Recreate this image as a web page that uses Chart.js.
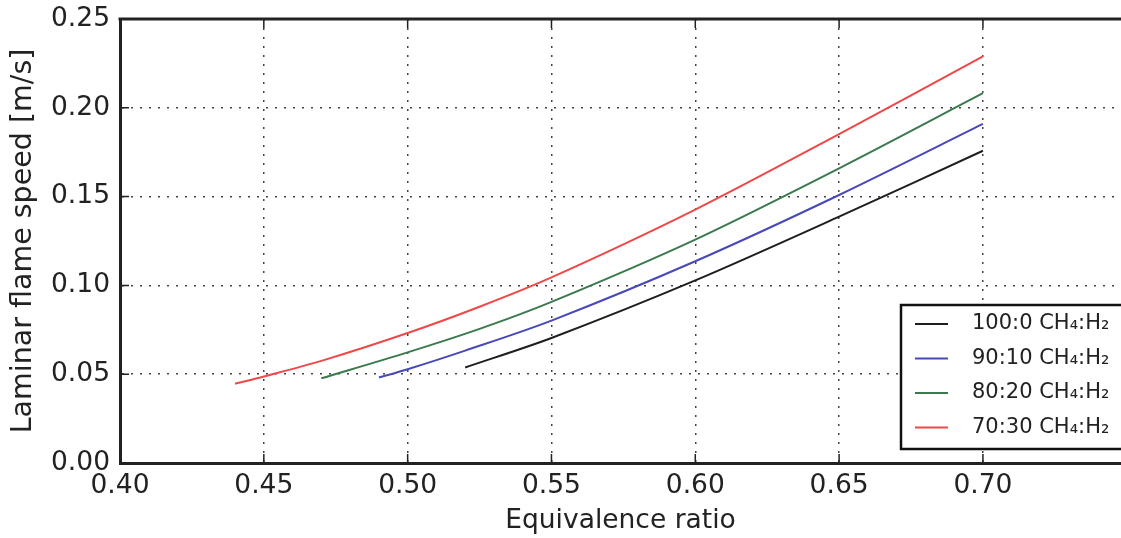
<!DOCTYPE html>
<html>
<head>
<meta charset="utf-8">
<script src="https://cdn.jsdelivr.net/npm/chart.js@4"></script>
<style>
  html, body { margin: 0; padding: 0; background: #fff; }
  #wrap { width: 1121px; height: 538px; }
</style>
</head>
<body>
<div id="wrap"><canvas id="myChart" width="1121" height="538"></canvas></div>
<script>
// equivalence ratio / flame speed
const seriesNames = ['100:0 CH₄:H₂', '90:10 CH₄:H₂', '80:20 CH₄:H₂', '70:30 CH₄:H₂'];
const seriesColors = ['#1e1e1e', '#4848b8', '#3b7a4c', '#ee4848'];

const phi100 = [0.52, 0.55, 0.60, 0.65, 0.70];
const sl100 = [0.0538, 0.0704, 0.1028, 0.1387, 0.1758];

const phi90 = [0.49, 0.50, 0.52, 0.55, 0.60, 0.65, 0.70];
const sl90 = [0.0481, 0.0528, 0.0633, 0.0802, 0.1136, 0.1509, 0.1909];

const phi80 = [0.47, 0.50, 0.525, 0.55, 0.60, 0.65, 0.70];
const sl80 = [0.0477, 0.0623, 0.0755, 0.0907, 0.1258, 0.1659, 0.2082];

const phi70 = [0.44, 0.45, 0.47, 0.50, 0.525, 0.55, 0.60, 0.65, 0.70];
const sl70 = [0.0446, 0.0487, 0.0575, 0.0732, 0.088, 0.1045, 0.1427, 0.1852, 0.229];

const xTicks = [0.40, 0.45, 0.50, 0.55, 0.60, 0.65, 0.70];
const yTicks = [0.00, 0.05, 0.10, 0.15, 0.20, 0.25];

function pts(xs, ys) {
  return xs.map((x, i) => ({ x: x, y: ys[i] }));
}

const allX = [phi100, phi90, phi80, phi70];
const allY = [sl100, sl90, sl80, sl70];

const datasets = seriesNames.map((name, i) => ({
  label: name,
  data: pts(allX[i], allY[i]),
  borderColor: seriesColors[i],
  borderWidth: 2,
  pointRadius: 0,
  tension: 0.3,
  fill: false
}));

const FONT = 'DejaVu Sans';

// top frame line, inward ticks and the boxed legend
const framePlugin = {
  id: 'frame',
  afterDraw(chart) {
    const ctx = chart.ctx;
    const a = chart.chartArea;
    const xs = chart.scales.x, ys = chart.scales.y;
    ctx.save();
    ctx.strokeStyle = '#222';
    ctx.lineWidth = 1.5;
    ctx.beginPath();
    xTicks.forEach(v => {
      const px = xs.getPixelForValue(v);
      ctx.moveTo(px, a.bottom); ctx.lineTo(px, a.bottom - 9);
      ctx.moveTo(px, a.top); ctx.lineTo(px, a.top + 9);
    });
    yTicks.forEach(v => {
      const py = ys.getPixelForValue(v);
      ctx.moveTo(a.left, py); ctx.lineTo(a.left + 9, py);
    });
    ctx.stroke();

    ctx.lineWidth = 3;
    ctx.beginPath();
    ctx.moveTo(a.left - 1.5, a.top);
    ctx.lineTo(chart.width, a.top);
    ctx.stroke();

    // legend box
    const bx = 901, by = 305, bh = 144;
    ctx.fillStyle = '#fff';
    ctx.fillRect(bx, by, chart.width - bx + 5, bh);
    ctx.lineWidth = 2.5;
    ctx.strokeStyle = '#111';
    ctx.strokeRect(bx, by, chart.width - bx + 5, bh);
    ctx.font = '21px "' + FONT + '"';
    ctx.textBaseline = 'middle';
    ctx.textAlign = 'left';
    seriesNames.forEach((name, i) => {
      const ry = by + 19 + i * 34.5;
      ctx.strokeStyle = seriesColors[i];
      ctx.lineWidth = 2;
      ctx.beginPath();
      ctx.moveTo(915, ry); ctx.lineTo(948, ry);
      ctx.stroke();
      ctx.fillStyle = '#222';
      ctx.fillText(name, 972, ry);
    });
    ctx.restore();
  }
};

const ctx = document.getElementById('myChart').getContext('2d');
const myChart = new Chart(ctx, {
  type: 'line',
  data: { datasets: datasets },
  options: {
    responsive: false,
    animation: false,
    layout: { padding: { top: 19, right: 0, left: 0, bottom: 0 } },
    plugins: {
      legend: { display: false },
      tooltip: { enabled: false }
    },
    scales: {
      x: {
        type: 'linear',
        min: 0.40,
        max: 0.748,
        afterFit: function (scale) {
          scale.height = 75;
          scale.paddingLeft = 0; scale.paddingRight = 0;
        },
        afterBuildTicks: function (scale) { scale.ticks = xTicks.map(v => ({ value: v })); },
        ticks: {
          color: '#222',
          padding: 7,
          maxRotation: 0,
          font: { family: FONT, size: 26.5 },
          callback: v => v.toFixed(2)
        },
        grid: { color: '#444', lineWidth: 1.5, drawTicks: false },
        border: { display: true, color: '#222', width: 3, dash: [2, 7] },
        title: {
          display: true,
          text: 'Equivalence ratio',
          color: '#222',
          font: { family: FONT, size: 26.5 },
          padding: { top: 0, bottom: 1 }
        }
      },
      y: {
        min: 0,
        max: 0.25,
        afterFit: function (scale) {
          scale.width = 120;
          scale.paddingTop = 0; scale.paddingBottom = 0;
        },
        afterBuildTicks: function (scale) { scale.ticks = yTicks.map(v => ({ value: v })); },
        ticks: {
          color: '#222',
          padding: 10,
          font: { family: FONT, size: 26.5 },
          callback: v => v.toFixed(2)
        },
        grid: { color: '#444', lineWidth: 1.5, drawTicks: false },
        border: { display: true, color: '#222', width: 3, dash: [2, 7] },
        title: {
          display: true,
          text: 'Laminar flame speed [m/s]',
          color: '#222',
          font: { family: FONT, size: 28.5 },
          padding: { top: 6, bottom: 0 }
        }
      }
    }
  },
  plugins: [framePlugin]
});
</script>
</body>
</html>
